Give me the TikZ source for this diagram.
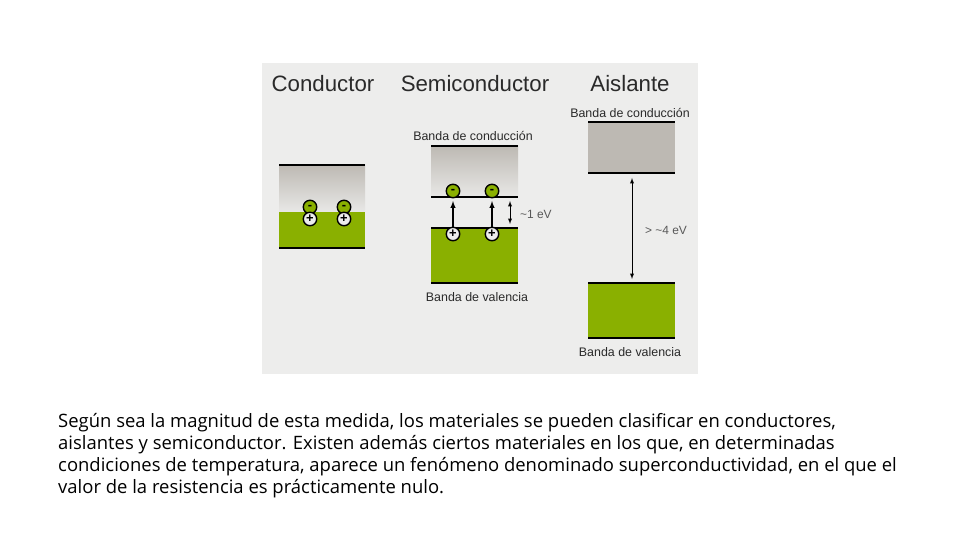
\documentclass[tikz,border=0pt]{standalone}
\usepackage{fontspec}
\setmainfont{Liberation Sans}
\newfontfamily\bodyfont{Open Sans}
\usepackage{tikz}
\definecolor{panelgray}{HTML}{EDEDEC}
\definecolor{bandgreen}{HTML}{8AB000}
\definecolor{bandgray}{HTML}{BDB9B3}
\definecolor{labelgray}{HTML}{2A2A2A}
\tikzset{
  title/.style={font=\fontsize{19}{20}\selectfont, text=labelgray},
  bandlabel/.style={font=\fontsize{10.6}{12}\selectfont, text=labelgray},
  gaplabel/.style={font=\fontsize{10.2}{12}\selectfont, text=black!65},
  edge/.style={line width=1.7pt, black},
  hole/.style={circle, draw=black, line width=1.2pt, fill=white!85!gray, minimum size=11.5pt, inner sep=0pt, font=\fontsize{11}{11}\selectfont\bfseries},
  electron/.style={circle, draw=black, line width=1.2pt, fill=bandgreen, minimum size=11.5pt, inner sep=0pt, font=\fontsize{11}{11}\selectfont\bfseries},
  jump/.style={->, >=latex, line width=1pt},
  gap/.style={<->, >=latex, line width=0.6pt}
}
\begin{document}
\begin{tikzpicture}[x=0.03cm, y=-0.03cm]
        \useasboundingbox (0,0) rectangle (960,540);
        \fill[panelgray] (262,63) rectangle (698,374);

        \node[title] (conductor) at (323,84) {Conductor};
        \node[title] (semiconductor) at (475,84) {Semiconductor};
        \node[title] (aislante) at (630,84) {Aislante};

        \shade[top color=bandgray, bottom color=panelgray!90!bandgray] (279,165) rectangle (365,212);
        \fill[bandgreen] (279,212) rectangle (365,248);
        \draw[edge] (279,165) -- (365,165);
        \draw[edge] (279,248) -- (365,248);
        \node[electron] (e1) at (310,207) {-};
        \node[electron] (e2) at (344,207) {-};
        \node[hole] (h1) at (310,219) {+};
        \node[hole] (h2) at (344,219) {+};

        \node[bandlabel] (cond2) at (473,136) {Banda de conducción};
        \shade[top color=bandgray, bottom color=panelgray!90!bandgray] (431,146) rectangle (518,197);
        \fill[bandgreen] (431,228) rectangle (518,283);
        \draw[edge] (431,146) -- (518,146);
        \draw[edge] (431,197) -- (518,197);
        \draw[edge] (431,228) -- (518,228);
        \draw[edge] (431,283) -- (518,283);
        \node[electron] (e3) at (453,191) {-};
        \node[electron] (e4) at (492,191) {-};
        \node[hole] (h3) at (453,234) {+};
        \node[hole] (h4) at (492,234) {+};
        \draw[jump] (h3) -- (e3 |- 0,201);
        \draw[jump] (h4) -- (e4 |- 0,201);
        \coordinate (gap1a) at (510,201);
        \coordinate (gap1b) at (510,224);
        \draw[gap] (gap1a) -- (gap1b);
        \node[gaplabel, anchor=west] (ev1) at (516,214) {\textasciitilde1 eV};
        \node[bandlabel] (val2) at (477,297) {Banda de valencia};

        \node[bandlabel] (cond3) at (630,113) {Banda de conducción};
        \fill[bandgray] (588,122) rectangle (675,173);
        \fill[bandgreen] (588,283) rectangle (675,338);
        \draw[edge] (588,122) -- (675,122);
        \draw[edge] (588,173) -- (675,173);
        \draw[edge] (588,283) -- (675,283);
        \draw[edge] (588,338) -- (675,338);
        \coordinate (gap2a) at (632,178);
        \coordinate (gap2b) at (632,279);
        \draw[gap] (gap2a) -- (gap2b);
        \node[gaplabel] (ev2) at (666,230) {> \textasciitilde4 eV};
        \node[bandlabel] (val3) at (630,352) {Banda de valencia};

        \node[anchor=north west, inner sep=0pt, align=left, font=\bodyfont\fontsize{15.75}{18.9}\selectfont] (texto) at (58,413) {Según sea la magnitud de esta medida, los materiales se pueden clasificar en conductores,\\
aislantes y semiconductor. Existen además ciertos materiales en los que, en determinadas\\
condiciones de temperatura, aparece un fenómeno denominado superconductividad, en el que el\\
valor de la resistencia es prácticamente nulo.};
    \end{tikzpicture}
\end{document}
